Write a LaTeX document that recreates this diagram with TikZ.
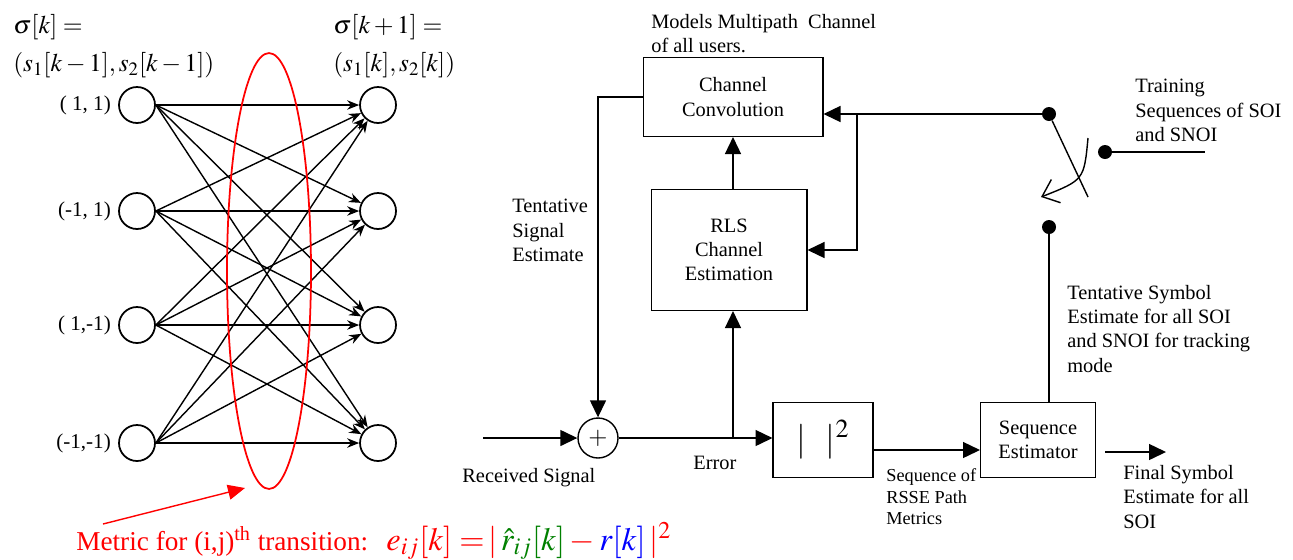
\documentclass[tikz,border=0pt]{standalone}
\usepackage{amsmath}
\usepackage{mathptmx}
\usepackage{fontspec}
\setmainfont{Liberation Serif}
\usepackage{xcolor}
\usetikzlibrary{arrows.meta, positioning, shapes.geometric}
\definecolor{metricRed}{RGB}{255,0,0}
\definecolor{estGreen}{RGB}{0,128,0}
\definecolor{rxBlue}{RGB}{0,0,255}
\newcommand{\lblfont}{\fontsize{11.6}{13.8}\selectfont}
\newcommand{\smlfont}{\fontsize{10.4}{12.4}\selectfont}

\begin{document}
\begin{tikzpicture}[x=0.02cm, y=-0.02cm,
state/.style={circle, draw, line width=1pt, minimum size=0.72cm, inner sep=0pt},
trans/.style={-{Stealth[length=0.24cm, width=0.19cm]}, line width=0.8pt},
block/.style={rectangle, draw, line width=0.6pt, align=center, font=\lblfont},
arrow/.style={-{Triangle[length=0.34cm, width=0.32cm]}, line width=0.8pt},
lbl/.style={align=left, font=\lblfont, inner sep=0pt, anchor=north west},
dot/.style={circle, fill, minimum size=0.28cm, inner sep=0pt},
redarrow/.style={-{Triangle[length=0.34cm, width=0.3cm]}, line width=0.8pt, color=metricRed}]
\useasboundingbox (0,0) rectangle (1293,559);

% trellis
\foreach \i/\y/\s in {1/105/{( 1, 1)}, 2/211/{(-1, 1)}, 3/325/{( 1,-1)}, 4/443/{(-1,-1)}} {
  \node[state] (l\i) at (137,\y) {};
  \node[state] (r\i) at (378,\y) {};
  \node[left=0.14cm of l\i, font=\fontsize{12}{14}\selectfont, inner sep=0pt] {\s};
}
\foreach \i in {1,...,4}
  \foreach \j in {1,...,4}
    \draw[trans] (l\i.east) -- (r\j);
\node[align=left, inner sep=0pt, anchor=north west, font=\fontsize{14.5}{21.5}\selectfont] (sigk) at (13,14)
  {$\sigma[k] =$\\$(s_1[k-1], s_2[k-1])$};
\node[align=left, inner sep=0pt, anchor=north west, font=\fontsize{14.5}{21.5}\selectfont] (sigk1) at (333,14)
  {$\sigma[k+1] =$\\$(s_1[k], s_2[k])$};

% metric
\node[ellipse, draw=metricRed, line width=1pt, minimum width=1.68cm, minimum height=8.72cm] (sel) at (269,271) {};
\node[inner sep=0pt, anchor=base west, text=metricRed, font=\fontsize{15.5}{18}\selectfont] (mtext) at (76,550)
  {Metric for (i,j)\textsuperscript{th} transition:};
\node[inner sep=0pt, anchor=base west, font=\fontsize{18.5}{22}\selectfont] (mform) at (386,550)
  {$\color{metricRed}e_{ij}[k] =\!|\,\color{estGreen}\hat{r}_{ij}[k]\color{metricRed}-\color{rxBlue}r[k]\color{metricRed}\,|^2$};
\coordinate (mstart) at (103,524);
\coordinate (mtip) at (245,488);
\draw[redarrow] (mstart) -- (mtip);

% receiver
\node[block, minimum width=3.6cm, minimum height=1.58cm] (conv) at (733,97) {Channel\\Convolution};
\node[block, minimum width=3.12cm, minimum height=2.42cm] (rls) at (729,250) {RLS\\Channel\\Estimation};
\node[circle, draw, line width=0.8pt, minimum size=0.8cm, inner sep=0pt, font=\fontsize{14}{14}\selectfont] (sum) at (598,438) {$+$};
\node[block, minimum width=2cm, minimum height=1.5cm, font=\fontsize{20}{24}\selectfont] (mag) at (823,440) {$|\;\;\,|^2$};
\node[block, minimum width=2.3cm, minimum height=1.5cm] (seq) at (1038,440) {Sequence\\Estimator};
\node[dot] (st) at (1049,114) {};
\node[dot] (sb) at (1049,227) {};
\node[dot] (tr) at (1105,152) {};
\coordinate (rx) at (483,438);
\coordinate (errtap) at (733,438);
\coordinate (tap) at (857,114);
\coordinate (blade) at (1088,197);
\coordinate (trend) at (1205,152);
\coordinate (fo1) at (1105,452);
\coordinate (fo2) at (1166,452);

\draw[arrow] (conv.west) -| (sum.north);
\draw[arrow] (rx) -- (sum.west);
\draw[arrow] (sum.east) -- (sum.east -| mag.west);
\draw[arrow] (errtap) -- (errtap |- rls.south);
\draw[arrow] (rls.north -| errtap) -- (errtap |- conv.south);
\draw[arrow] ([yshift=-0.2cm]mag.east) -- ([yshift=-0.2cm]seq.west);
\draw[arrow] (fo1) -- (fo2);
\draw[arrow] (st) -- (st -| conv.east);
\draw[arrow] (tap) |- (rls.east);
\draw[line width=0.8pt] (sb |- seq.north) -- (sb);
\draw[line width=0.8pt] (st) -- (blade);
\draw[line width=0.8pt] (tr) -- (trend);
\draw[line width=0.8pt, -{Straight Barb[length=0.3cm, width=0.5cm]}] (1088,138) .. controls (1084,180) .. (1041,197);

% labels
\node[lbl] (models) at (651,14) {Models Multipath\ \ Channel\\of all users.};
\node[lbl] (tse) at (512,199) {Tentative\\Signal\\Estimate};
\node[lbl] (rxs) at (462,468) {Received Signal};
\node[lbl] (err) at (693,456) {Error};
\node[lbl, font=\smlfont] (pathm) at (886,468) {Sequence of\\RSSE Path\\Metrics};
\node[lbl] (fse) at (1123,465) {Final Symbol\\Estimate for all\\SOI};
\node[lbl] (tsym) at (1067,285) {Tentative Symbol\\Estimate for all SOI\\and SNOI for tracking\\mode};
\node[lbl] (train) at (1135,79) {Training\\Sequences of SOI\\and SNOI};
\end{tikzpicture}
\end{document}
